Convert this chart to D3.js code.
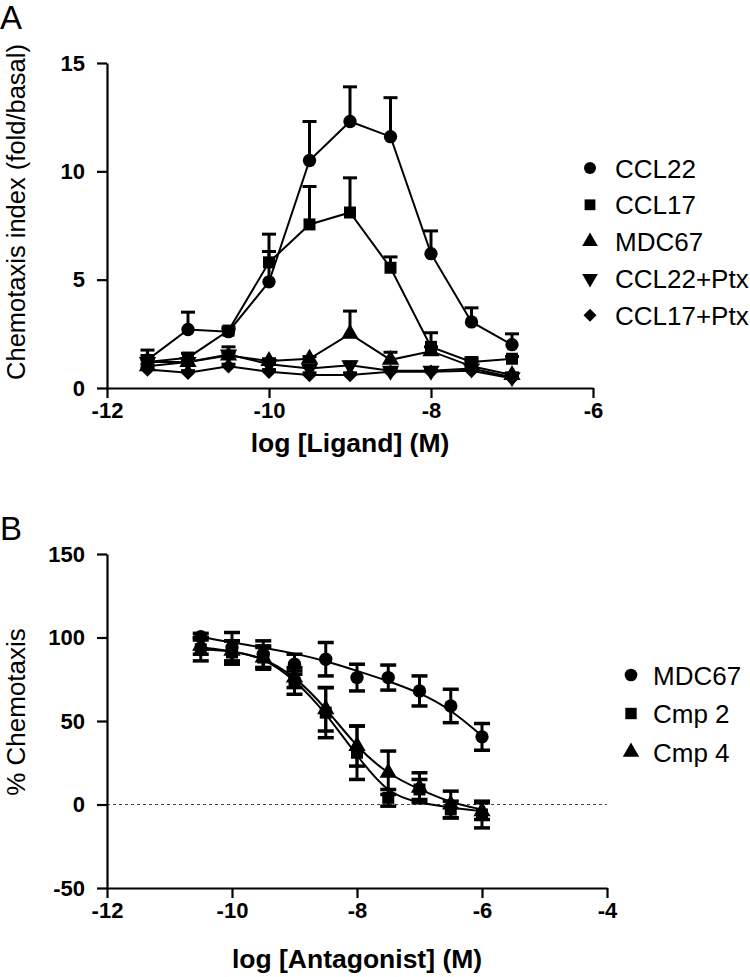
<!DOCTYPE html>
<html><head><meta charset="utf-8">
<script src="https://cdn.jsdelivr.net/npm/d3@7"></script>
<style>body{margin:0;background:#fff}text{font-family:"Liberation Sans",Arial,sans-serif}</style>
</head><body><svg id="c" width="750" height="977"></svg>
<script>
// ---------- Panel A data ----------
const xLigand = [-11.5,-11,-10.5,-10,-9.5,-9,-8.5,-8,-7.5,-7];
const ccl22      = [1.3, 2.7, 2.6, 4.9, 10.5, 12.3, 11.6, 6.2, 3.05, 2.0];
const ccl22Err   = [0.45,0.8, 0.1, 2.2, 1.8,  1.6,  1.8,  1.05,0.65, 0.5];
const ccl17      = [1.2, 1.4, 2.65,5.8, 7.55, 8.1,  5.55, 1.9, 1.2,  1.35];
const ccl17Err   = [0.3, 0.2, 0.15,0.5, 1.75, 1.6,  0.5,  0.65,0.2,  0.1];
const mdc67A     = [1.0, 1.2, 1.5, 1.25,1.35, 2.5,  1.3,  1.7, 1.0,  0.6];
const mdc67AErr  = [0.1, 0.1, 0.1, 0.1, 0.1,  1.05, 0.35, 0.2, 0.3,  0.1];
const ccl22Ptx   = [1.2, 1.2, 1.55,1.1, 0.9,  1.05, 0.8,  0.8, 0.9,  0.5];
const ccl22PtxErr= [0.1, 0.1, 0.35,0.1, 0.1,  0.15, 0.1,  0.1, 0.3,  0.1];
const ccl17Ptx   = [0.85,0.7, 1.0, 0.75,0.6,  0.6,  0.75, 0.75,0.8,  0.45];
const ccl17PtxErr= [0.1, 0.1, 0.1, 0.1, 0.1,  0.1,  0.1,  0.1, 0.1,  0.1];
const legendA = ["CCL22","CCL17","MDC67","CCL22+Ptx","CCL17+Ptx"];
const xTicksA = [-12,-10,-8,-6];
const yTicksA = [0,5,10,15];

// ---------- Panel B data ----------
const xAnt = [-10.5,-10,-9.5,-9,-8.5,-8,-7.5,-7,-6.5,-6];
const mdc67B    = [100.5,94, 90, 84, 87, 76, 76, 68, 59, 40.5];
const mdc67BErr = [2,    9,  8,  6,  10, 8,  7.5,9,  10, 8];
const mdc67BFit = [100.5,97, 94, 90.5,86,80, 74, 67, 57, 41];
const cmp2      = [93,   91, 88, 73, 55, 31, 4,  9,  -3, -6];
const cmp2Err   = [7,    7,  7,  7,  15, 16, 5,  6,  5,  8];
const cmp2Fit   = [93,   92, 88, 75, 55, 29, 6,  1,  -2, -4];
const cmp4      = [95,   92, 88, 76, 57, 35, 19, 10, 0,  -4];
const cmp4Err   = [5,    6,  6,  6,  13, 12, 13, 9,  8,  5];
const cmp4Fit   = [94,   92, 88, 77, 58, 34, 18, 9,  1,  -3];
const legendB = ["MDC67","Cmp 2","Cmp 4"];
const xTicksB = [-12,-10,-8,-6,-4];
const yTicksB = [-50,0,50,100,150];

const svg = d3.select("#c");

function marker(g, kind, x, y, scale=1){
  const types = {circle:d3.symbolCircle,square:d3.symbolSquare,tri:d3.symbolTriangle,down:d3.symbolTriangle,diamond:d3.symbolSquare};
  const sizes = {circle:140,square:144,tri:130,down:130,diamond:105};
  const gen = d3.symbol().type(types[kind]).size(sizes[kind]*scale*scale);
  let tr = `translate(${x},${y})`;
  if(kind==="down") tr += " rotate(180)";
  if(kind==="diamond") tr += " rotate(45)";
  g.append("path").attr("d",gen()).attr("fill","#000").attr("transform",tr);
}

function styleAxis(g){
  g.select(".domain").attr("stroke","#000").attr("stroke-width",2.2);
  g.selectAll(".tick line").attr("stroke","#000").attr("stroke-width",2.2);
  g.selectAll(".tick text").attr("fill","#000").style("font-size","22px").style("font-weight","bold")
   .style("font-family","'Liberation Sans',Arial,sans-serif");
}
const fmt = d => String(d);

// ---------- Panel A ----------
const xA = d3.scaleLinear().domain([-12,-6]).range([107,593]);
const yA = d3.scaleLinear().domain([0,15]).range([388,63]);
const gA = svg.append("g");
gA.append("g").attr("transform","translate(0,388)")
  .call(d3.axisBottom(xA).tickValues(xTicksA).tickFormat(fmt).tickSize(10).tickPadding(4).tickSizeOuter(0)).call(styleAxis);
gA.append("g").attr("transform","translate(107,0)")
  .call(d3.axisLeft(yA).tickValues(yTicksA).tickFormat(fmt).tickSize(10).tickPadding(12).tickSizeOuter(0)).call(styleAxis);

const seriesA = [
  {v:ccl17Ptx,e:ccl17PtxErr,k:"diamond"},
  {v:ccl22Ptx,e:ccl22PtxErr,k:"down"},
  {v:mdc67A,e:mdc67AErr,k:"tri"},
  {v:ccl17,e:ccl17Err,k:"square"},
  {v:ccl22,e:ccl22Err,k:"circle"}
];
const lineA = d3.line().x((d,i)=>xA(xLigand[i])).y(d=>yA(d));
seriesA.forEach(s=>{
  gA.append("path").attr("d",lineA(s.v)).attr("fill","none").attr("stroke","#000").attr("stroke-width",2);
  s.v.forEach((v,i)=>{
    const x = xA(xLigand[i]), y0 = yA(v), y1 = yA(v+s.e[i]);
    gA.append("line").attr("x1",x).attr("x2",x).attr("y1",y0).attr("y2",y1).attr("stroke","#000").attr("stroke-width",3);
    gA.append("line").attr("x1",x-7).attr("x2",x+7).attr("y1",y1).attr("y2",y1).attr("stroke","#000").attr("stroke-width",3);
  });
});
seriesA.forEach(s=>s.v.forEach((v,i)=>marker(gA,s.k,xA(xLigand[i]),yA(v))));

const kindsA = ["circle","square","tri","down","diamond"];
legendA.forEach((t,i)=>{
  const y = 168 + i*36.8;
  marker(gA,kindsA[i],590,y,0.9);
  gA.append("text").attr("x",615).attr("y",y+9.5).text(t).style("font-size","26px");
});
gA.append("text").attr("x",350).attr("y",452).attr("text-anchor","middle")
  .style("font-size","26.5px").style("font-weight","bold").text("log [Ligand] (M)");
gA.append("text").attr("transform","translate(25,212) rotate(-90)").attr("text-anchor","middle")
  .style("font-size","25.5px").text("Chemotaxis index (fold/basal)");
svg.append("text").attr("x",0).attr("y",29).style("font-size","33px").text("A");

// ---------- Panel B ----------
const xB = d3.scaleLinear().domain([-12,-4]).range([107,607]);
const yB = d3.scaleLinear().domain([-50,150]).range([888,554]);
const gB = svg.append("g");
gB.append("line").attr("x1",xB(-12)).attr("x2",xB(-4)).attr("y1",yB(0)).attr("y2",yB(0))
  .attr("stroke","#444").attr("stroke-width",1).attr("stroke-dasharray","3,3");
gB.append("g").attr("transform","translate(0,888)")
  .call(d3.axisBottom(xB).tickValues(xTicksB).tickFormat(fmt).tickSize(10).tickPadding(4).tickSizeOuter(0)).call(styleAxis);
gB.append("g").attr("transform","translate(107,0)")
  .call(d3.axisLeft(yB).tickValues(yTicksB).tickFormat(fmt).tickSize(10).tickPadding(12).tickSizeOuter(0)).call(styleAxis);

const seriesB = [
  {v:cmp4,e:cmp4Err,f:cmp4Fit,k:"tri"},
  {v:cmp2,e:cmp2Err,f:cmp2Fit,k:"square"},
  {v:mdc67B,e:mdc67BErr,f:mdc67BFit,k:"circle"}
];
const lineB = d3.line().x((d,i)=>xB(xAnt[i])).y(d=>yB(d)).curve(d3.curveBasis);
seriesB.forEach(s=>{
  gB.append("path").attr("d",lineB(s.f)).attr("fill","none").attr("stroke","#000").attr("stroke-width",2);
  s.v.forEach((v,i)=>{
    const x = xB(xAnt[i]), yt = yB(v+s.e[i]), yb = yB(v-s.e[i]);
    gB.append("line").attr("x1",x).attr("x2",x).attr("y1",yt).attr("y2",yb).attr("stroke","#000").attr("stroke-width",3);
    [yt,yb].forEach(yy=>gB.append("line").attr("x1",x-8).attr("x2",x+8).attr("y1",yy).attr("y2",yy).attr("stroke","#000").attr("stroke-width",3.5));
  });
});
seriesB.forEach(s=>s.v.forEach((v,i)=>marker(gB,s.k,xB(xAnt[i]),yB(v))));

const kindsB = ["circle","square","tri"];
legendB.forEach((t,i)=>{
  const y = 675 + i*38.5;
  marker(gB,kindsB[i],631,y,0.95);
  gB.append("text").attr("x",653).attr("y",y+9.5).text(t).style("font-size","26px");
});
gB.append("text").attr("x",357).attr("y",968).attr("text-anchor","middle")
  .style("font-size","26.5px").style("font-weight","bold").text("log [Antagonist] (M)");
gB.append("text").attr("transform","translate(25,712) rotate(-90)").attr("text-anchor","middle")
  .style("font-size","26px").text("% Chemotaxis");
svg.append("text").attr("x",0).attr("y",540).style("font-size","33px").text("B");
</script></body></html>
